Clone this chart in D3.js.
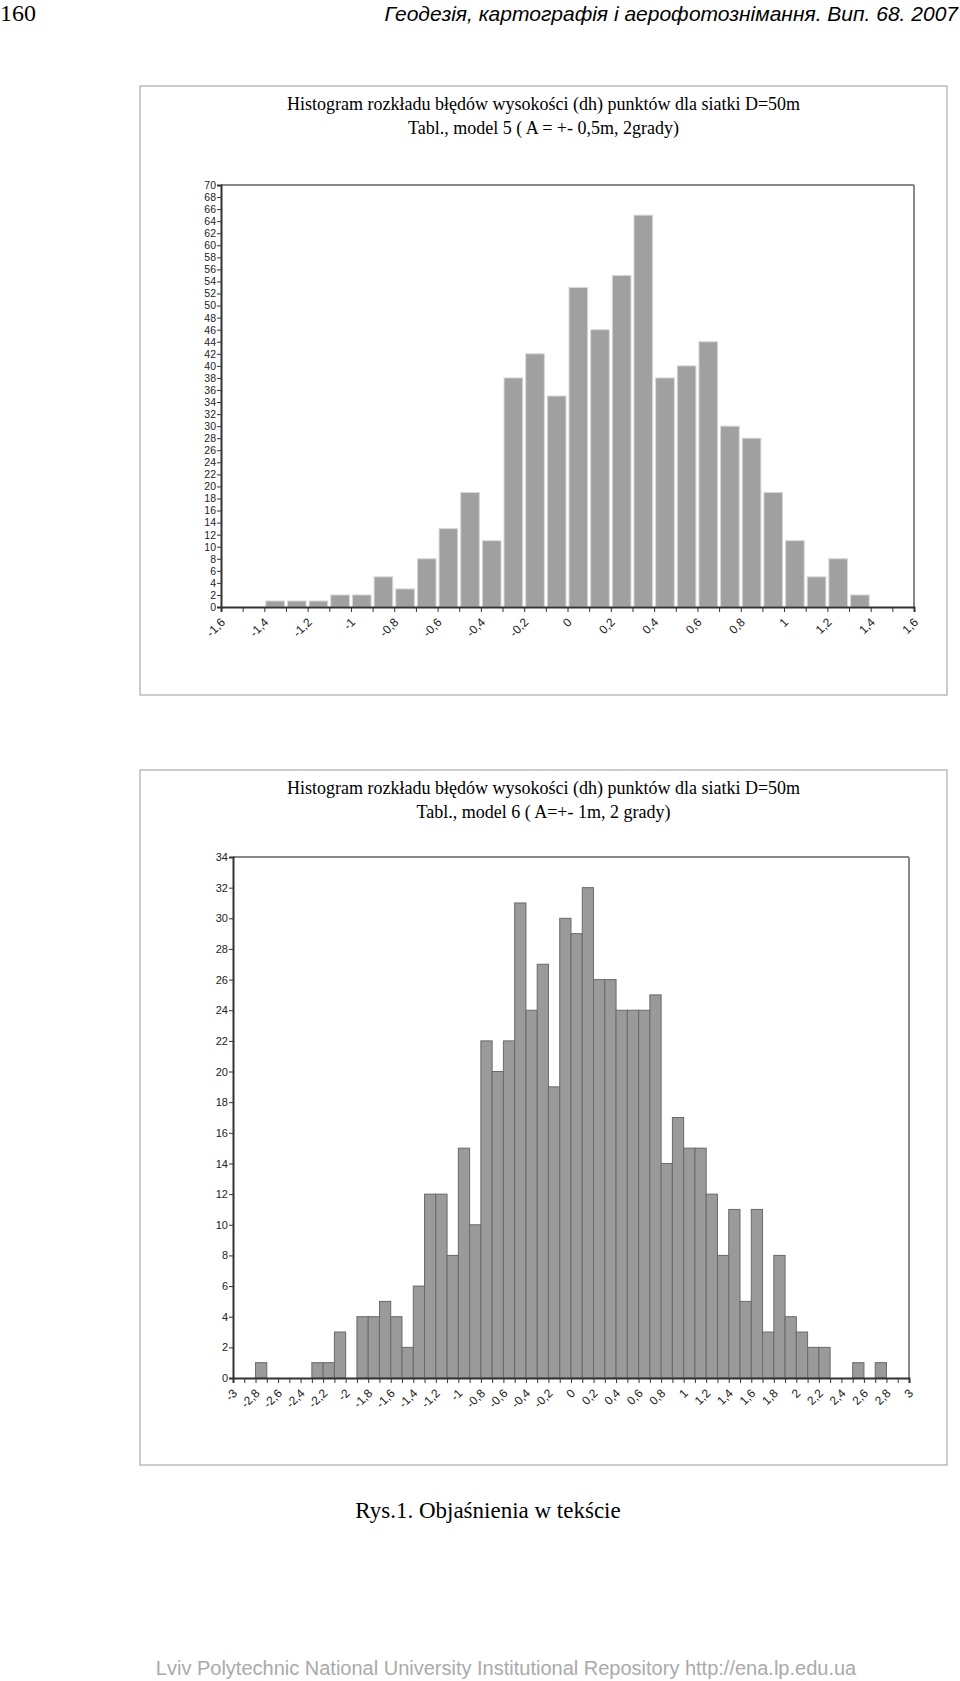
<!DOCTYPE html>
<html><head><meta charset="utf-8">
<script src="https://cdn.jsdelivr.net/npm/d3@7"></script>
<style>body{margin:0;background:#fff}</style></head>
<body><svg id="c" width="960" height="1681"></svg>
<script>
// Chart 1: bins of 0.1 from -1.6 to 1.6
const bins1Start = -1.6, bins1Step = 0.1;
const counts1 = [0,0,1,1,1,2,2,5,3,8,13,19,11,38,42,35,53,46,55,65,38,40,44,30,28,19,11,5,8,2,0,0];
const yTicks1 = d3.range(0,71,2);
const xLabels1 = [-1.6,-1.4,-1.2,-1,-0.8,-0.6,-0.4,-0.2,0,0.2,0.4,0.6,0.8,1,1.2,1.4,1.6];
// Chart 2: bins of 0.1 from -3 to 3
const bins2Start = -3, bins2Step = 0.1;
const counts2 = [0,0,1,0,0,0,0,1,1,3,0,4,4,5,4,2,6,12,12,8,15,10,22,20,22,31,24,27,19,30,29,32,26,26,24,24,24,25,14,17,15,15,12,8,11,5,11,3,8,4,3,2,2,0,0,1,0,1,0,0];
const yTicks2 = d3.range(0,35,2);
const xLabels2 = d3.range(-30,31,2).map(v=>v/10);

const svg = d3.select("#c");
const fmt = v => String(Math.round(v*10)/10).replace(".",",");

svg.append("text").attr("x",0).attr("y",21).attr("font-family","Liberation Serif").attr("font-size",24).text("160");
svg.append("text").attr("x",958).attr("y",21).attr("text-anchor","end").attr("font-family","Liberation Sans").attr("font-style","italic").attr("font-size",21).text("Геодезія, картографія і аерофотознімання. Вип. 68. 2007");

function chart(o){
  svg.append("rect").attr("x",o.fx).attr("y",o.fy).attr("width",o.fw).attr("height",o.fh).attr("fill","none").attr("stroke","#999").attr("stroke-width",1);
  o.titles.forEach((t,i)=>svg.append("text").attr("x",(o.fx+o.fw/2)).attr("y",o.fy+24+i*24).attr("text-anchor","middle")
    .attr("font-family","Liberation Serif").attr("font-size",18).text(t));
  const x = d3.scaleLinear().domain(o.dom).range([o.l,o.r]);
  const y = d3.scaleLinear().domain([0,o.ymax]).range([o.b,o.t]);
  const g = svg.append("g");
  g.append("line").attr("x1",o.l).attr("x2",o.r).attr("y1",o.t).attr("y2",o.t).attr("stroke","#888").attr("stroke-width",2);
  g.append("line").attr("x1",o.r).attr("x2",o.r).attr("y1",o.t).attr("y2",o.b).attr("stroke","#888").attr("stroke-width",2);
  g.selectAll("rect.bar").data(o.counts).join("rect")
    .attr("x",(d,i)=>x(o.start+i*o.step)+o.gap)
    .attr("width",(d,i)=>x(o.start+(i+1)*o.step)-x(o.start+i*o.step)-2*o.gap)
    .attr("y",d=>y(d)).attr("height",d=>o.b-y(d))
    .attr("fill",o.fill).attr("stroke",o.stroke).attr("stroke-width",1)
    .style("display",d=>d>0?null:"none");
  const ya = g.append("g").attr("transform",`translate(${o.l},0)`)
    .call(d3.axisLeft(y).tickValues(o.yt).tickSize(4).tickFormat(d=>d));
  ya.selectAll("text").attr("font-family","Liberation Sans").attr("font-size",o.yfs).attr("fill","#222").attr("dx","2");
  ya.selectAll("line,path").attr("stroke","#333");
  ya.select("path").attr("stroke-width",2);
  const xa = g.append("g").attr("transform",`translate(0,${o.b})`)
    .call(d3.axisBottom(x).tickValues(d3.range(0,o.counts.length+1).map(i=>o.start+i*o.step)).tickSize(5).tickFormat(""));
  xa.selectAll("line,path").attr("stroke","#333");
  xa.select("path").attr("stroke-width",2);
  g.selectAll("text.xl").data(o.xl).join("text")
    .attr("transform",d=>`translate(${x(d)+5},${o.b+16}) rotate(-45)`)
    .attr("text-anchor","end").attr("font-family","Liberation Sans").attr("font-size",12).attr("fill","#222").text(fmt);
}
chart({fx:140,fy:86,fw:807,fh:609,titles:["Histogram rozkładu błędów wysokości (dh) punktów dla siatki D=50m","Tabl., model 5 ( A = +- 0,5m, 2grady)"],
  dom:[-1.6,1.6],l:221,r:914,t:185,b:607,ymax:70,counts:counts1,start:bins1Start,step:bins1Step,gap:1.5,fill:"#a0a0a0",stroke:"#d8d8d8",yt:yTicks1,yfs:10.5,xl:xLabels1});
chart({fx:140,fy:770,fw:807,fh:695,titles:["Histogram rozkładu błędów wysokości (dh) punktów dla siatki D=50m","Tabl., model 6 ( A=+- 1m, 2 grady)"],
  dom:[-3,3],l:233,r:909,t:857,b:1378,ymax:34,counts:counts2,start:bins2Start,step:bins2Step,gap:0,fill:"#9a9a9a",stroke:"#6a6a6a",yt:yTicks2,yfs:11,xl:xLabels2});

svg.append("text").attr("x",488).attr("y",1518).attr("text-anchor","middle").attr("font-family","Liberation Serif").attr("font-size",23).text("Rys.1. Objaśnienia w tekście");
svg.append("text").attr("x",506).attr("y",1675).attr("text-anchor","middle").attr("font-family","Liberation Sans").attr("font-size",20).attr("fill","#aaa").text("Lviv Polytechnic National University Institutional Repository http://ena.lp.edu.ua");
</script></body></html>
